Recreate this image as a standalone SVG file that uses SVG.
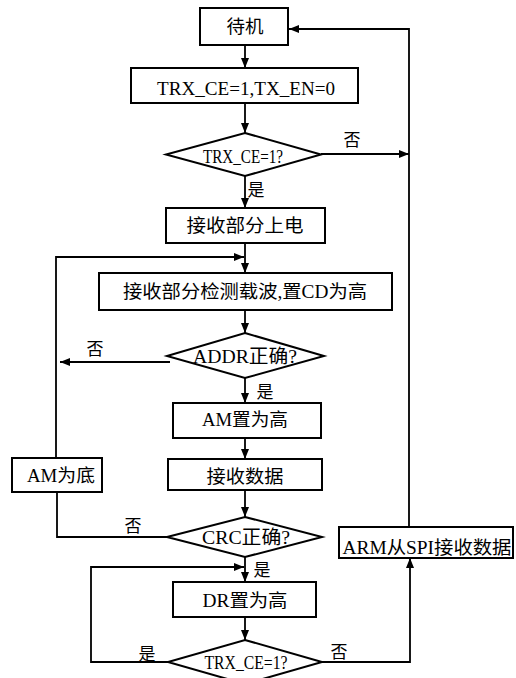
<svg xmlns="http://www.w3.org/2000/svg" width="516" height="678" viewBox="0 0 516 678">
<defs>
<marker id="ah" viewBox="0 0 10 8" refX="10" refY="4" markerWidth="10" markerHeight="8" markerUnits="userSpaceOnUse" orient="auto">
<path d="M0,0 L10,4 L0,8 Z" fill="#000"/>
</marker>
<style>
.n{fill:#fff;stroke:#000;stroke-width:2}
.c{fill:none;stroke:#000;stroke-width:1.8}
.a{marker-end:url(#ah)}
text{font-family:"Liberation Serif","Noto Sans CJK SC",serif;font-size:18px;fill:#000;text-anchor:middle}
.l{font-size:17px}
.d{font-size:19px}
</style>
</defs>
<rect width="516" height="678" fill="#fff"/>
<g id="connectors">
<path class="c a" d="M245,45 V68"/>
<path class="c a" d="M245,103 V133"/>
<path class="c a" d="M321,154 H409"/>
<path class="c a" d="M245,176 V208"/>
<path class="c a" d="M245,243 V273"/>
<path class="c a" d="M56,458 V257 H244"/>
<path class="c a" d="M245,310 V333"/>
<path class="c a" d="M170,362 H60"/>
<path class="c a" d="M245,378 V403"/>
<path class="c a" d="M245,438 V459"/>
<path class="c a" d="M245,490 V517"/>
<path class="c" d="M57,492 V537 H167"/>
<path class="c a" d="M245,557 V582"/>
<path class="c a" d="M168,662 H91 V567 H244"/>
<path class="c a" d="M245,617 V640"/>
<path class="c a" d="M322,662 H410 V558"/>
<path class="c a" d="M409,527 V29 H289"/>
<text class="l" x="352" y="146">否</text>
<text class="l" x="256" y="196">是</text>
<text class="l" x="95" y="355">否</text>
<text class="l" x="265" y="398">是</text>
<text class="l" x="133" y="532">否</text>
<text class="l" x="262" y="576">是</text>
<text class="l" x="147" y="660">是</text>
<text class="l" x="339" y="658">否</text>
</g>
<g id="standby"><rect class="n" x="200" y="8" width="88" height="37"/><text x="245" y="33" textLength="37" lengthAdjust="spacingAndGlyphs">待机</text></g>
<g id="set"><rect class="n" x="131" y="68" width="227" height="35"/><text x="246" y="95" textLength="178" lengthAdjust="spacingAndGlyphs">TRX_CE=1,TX_EN=0</text></g>
<g id="d1"><polygon class="n" points="245,133 321,154.5 245,176 166,154.5"/><text class="d" x="243" y="163" textLength="80" lengthAdjust="spacingAndGlyphs">TRX_CE=1?</text></g>
<g id="power"><rect class="n" x="166" y="208" width="159" height="35"/><text x="245" y="232" textLength="117" lengthAdjust="spacingAndGlyphs">接收部分上电</text></g>
<g id="detect"><rect class="n" x="99" y="273" width="293" height="37"/><text x="245" y="298" textLength="244" lengthAdjust="spacingAndGlyphs">接收部分检测载波,置CD为高</text></g>
<g id="addr"><polygon class="n" points="245,333 324,356 245,378 167,356"/><text class="d" x="245" y="363" textLength="104" lengthAdjust="spacingAndGlyphs">ADDR正确?</text></g>
<g id="amhigh"><rect class="n" x="173" y="403" width="148" height="35"/><text x="245" y="426" textLength="86" lengthAdjust="spacingAndGlyphs">AM置为高</text></g>
<g id="recv"><rect class="n" x="168" y="459" width="154" height="31"/><text x="245" y="483" textLength="77" lengthAdjust="spacingAndGlyphs">接收数据</text></g>
<g id="amlow"><rect class="n" x="12" y="458" width="90" height="34"/><text x="61" y="482" textLength="68" lengthAdjust="spacingAndGlyphs">AM为底</text></g>
<g id="crc"><polygon class="n" points="245,517 322,537 245,557 167,537"/><text class="d" x="246" y="544" textLength="88" lengthAdjust="spacingAndGlyphs">CRC正确?</text></g>
<g id="arm"><rect class="n" x="339" y="527" width="174" height="31"/><text x="427" y="554" textLength="169" lengthAdjust="spacingAndGlyphs">ARM从SPI接收数据</text></g>
<g id="drhigh"><rect class="n" x="173" y="582" width="143" height="35"/><text x="245" y="607" textLength="85" lengthAdjust="spacingAndGlyphs">DR置为高</text></g>
<g id="d3"><polygon class="n" points="245,640 322,662 245,684 168,662"/><text class="d" x="246" y="669" textLength="83" lengthAdjust="spacingAndGlyphs">TRX_CE=1?</text></g>
</svg>
